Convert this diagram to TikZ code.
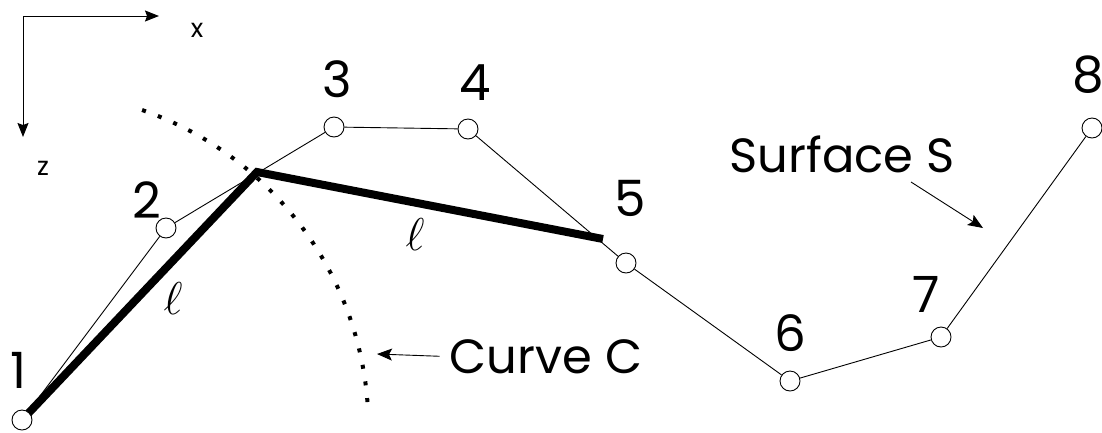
\documentclass[tikz,border=0pt]{standalone}
\usepackage{fontspec}
\setmainfont{Poppins}
\usetikzlibrary{arrows.meta}
\pgfdeclarelayer{bg}
\pgfsetlayers{bg,main}
\begin{document}
\begin{tikzpicture}[x=1pt,y=-1pt,
  pt/.style={circle,draw,fill=white,line width=0.9pt,minimum size=20pt,inner sep=0pt},
  num/.style={anchor=base,inner sep=0pt,font=\fontsize{50}{56}\selectfont},
  word/.style={anchor=base,inner sep=0pt,font=\fontsize{48}{54}\selectfont},
  axl/.style={anchor=base,inner sep=0pt,font=\fontsize{26}{30}\selectfont},
  ell/.style={inner sep=0pt,font=\fontsize{24.88}{30}\selectfont,scale=1.85},
  thin/.style={line width=0.9pt},
  fat/.style={line width=8pt,line join=miter,line cap=butt},
  dots/.style={line width=4pt,line cap=butt,dash pattern=on 4pt off 12.8pt},
  ptr/.style={line width=0.9pt,-{Stealth[length=15pt,width=12pt,inset=3pt]}},
  axis/.style={line width=1pt,-{Stealth[length=14pt,width=11pt,inset=2pt]}}
]
\useasboundingbox (0,0) rectangle (1102,432);

% axes
\coordinate (o) at (23,16);
\coordinate (xe) at (159,16);
\coordinate (ze) at (23,137);
\draw[axis] (o) -- (xe);
\draw[axis] (o) -- (ze);
\node[axl] (xl) at (197,37) {x};
\node[axl] (zl) at (43,175) {z};

% points
\node[pt] (p1) at (22,420) {};
\node[pt] (p2) at (166,228) {};
\node[pt] (p3) at (334,127) {};
\node[pt] (p4) at (468,129) {};
\node[pt] (p5) at (626,263) {};
\node[pt] (p6) at (790,381) {};
\node[pt] (p7) at (941,337) {};
\node[pt] (p8) at (1092,128) {};

% labels
\node[num] (l1) at (18,388) {1};
\node[num] (l2) at (147,218) {2};
\node[num] (l3) at (337,97) {3};
\node[num] (l4) at (475,100) {4};
\node[num] (l5) at (630,216) {5};
\node[num] (l6) at (790,351) {6};
\node[num] (l7) at (926,312) {7};
\node[num] (l8) at (1088,92) {8};

% thick segments and curve C
\coordinate (k) at (257,172);
\coordinate (e) at (603,239);
\begin{pgfonlayer}{bg}
\draw[fat] (p1.center) -- (k) -- (e);
\draw[dots] plot[domain=-70.9:-3.4,samples=120,variable=\t] ({32+336.5*cos(\t)},{428+336.5*sin(\t)});
\end{pgfonlayer}

% surface polyline
\draw[thin] (p1) -- (p2) -- (p3) -- (p4) -- (p5) -- (p6) -- (p7) -- (p8);

% ell labels
\node[ell] (ell1) at (173,299) {$\ell$};
\node[ell] (ell2) at (415,235) {$\ell$};

% Curve C
\node[word] (cv) at (546,373) {Curve C};
\coordinate (ca) at (377,354);
\draw[ptr] ([xshift=-10pt]cv.west) -- (ca);

% Surface S
\node[word] (sf) at (842,172) {Surface S};
\coordinate (ss) at (911,182);
\coordinate (sa) at (983,228);
\draw[ptr] (ss) -- (sa);
\end{tikzpicture}
\end{document}
